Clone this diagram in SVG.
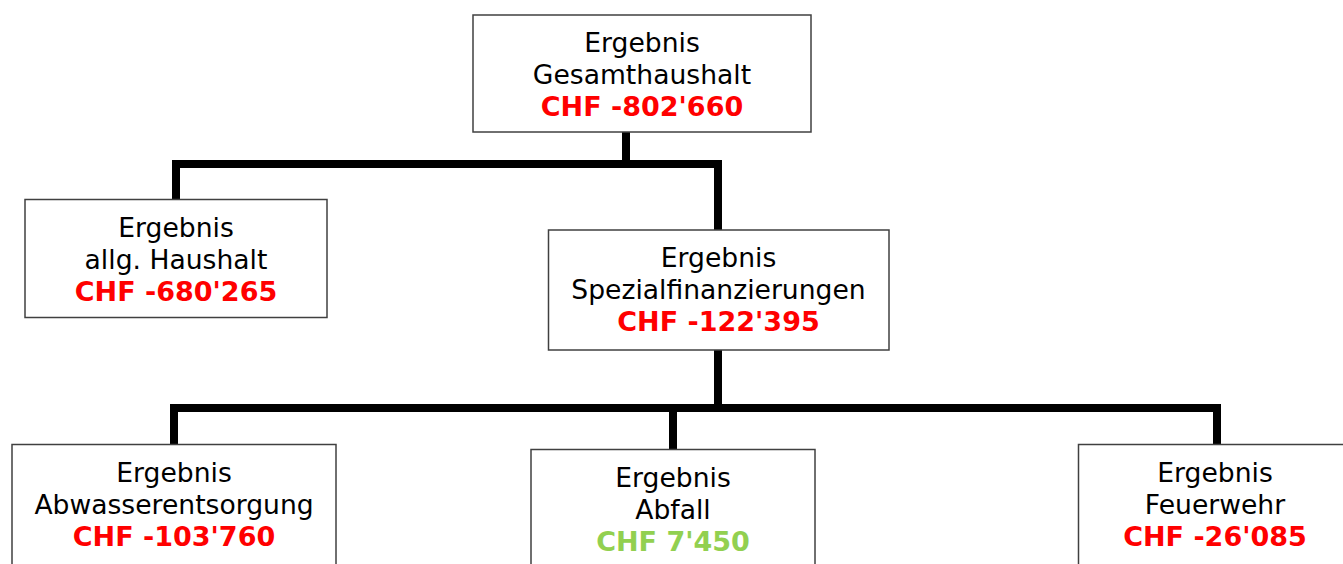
<svg xmlns="http://www.w3.org/2000/svg" width="1343" height="564" viewBox="0 0 1343 564">
<style>
.box{fill:#ffffff;stroke:#404040;stroke-width:1.5}
.t{font-family:"DejaVu Sans","Verdana",sans-serif;font-size:26.6px;fill:#000;text-anchor:middle}
.v{font-family:"DejaVu Sans","Verdana",sans-serif;font-size:27px;font-weight:bold;text-anchor:middle}
.neg{fill:#ff0000}
.pos{fill:#92d050}
.c{fill:none;stroke:#000;stroke-width:8;stroke-linejoin:miter;stroke-linecap:butt}
</style>
<rect width="1343" height="564" fill="#ffffff"/>
<g id="connectors">
<path class="c" d="M626,132 V164"/>
<path class="c" d="M176,200 V164 H718 V230"/>
<path class="c" d="M718,350 V408"/>
<path class="c" d="M174,444 V408 H1217 V444"/>
<path class="c" d="M673,408 V449"/>
</g>
<g id="gesamt">
<rect class="box" x="473" y="15" width="338" height="117"/>
<text class="t" x="642" y="52">Ergebnis</text>
<text class="t" x="642" y="84">Gesamthaushalt</text>
<text class="v neg" x="642" y="116">CHF -802'660</text>
</g>
<g id="allg">
<rect class="box" x="25" y="199.5" width="302" height="118"/>
<text class="t" x="176" y="237">Ergebnis</text>
<text class="t" x="176" y="269">allg. Haushalt</text>
<text class="v neg" x="176" y="301">CHF -680'265</text>
</g>
<g id="spezial">
<rect class="box" x="548.5" y="230" width="340.5" height="120"/>
<text class="t" x="718.5" y="267">Ergebnis</text>
<text class="t" x="718.5" y="299">Spezialfinanzierungen</text>
<text class="v neg" x="718.5" y="331">CHF -122'395</text>
</g>
<g id="abwasser">
<rect class="box" x="12" y="444.5" width="324" height="140"/>
<text class="t" x="174" y="482">Ergebnis</text>
<text class="t" x="174" y="514">Abwasserentsorgung</text>
<text class="v neg" x="174" y="546">CHF -103'760</text>
</g>
<g id="abfall">
<rect class="box" x="531" y="449.5" width="284" height="140"/>
<text class="t" x="673" y="487">Ergebnis</text>
<text class="t" x="673" y="519">Abfall</text>
<text class="v pos" x="673" y="551">CHF 7'450</text>
</g>
<g id="feuerwehr">
<rect class="box" x="1078.5" y="444.5" width="274" height="140"/>
<text class="t" x="1215" y="482">Ergebnis</text>
<text class="t" x="1215" y="514">Feuerwehr</text>
<text class="v neg" x="1215" y="546">CHF -26'085</text>
</g>
</svg>
